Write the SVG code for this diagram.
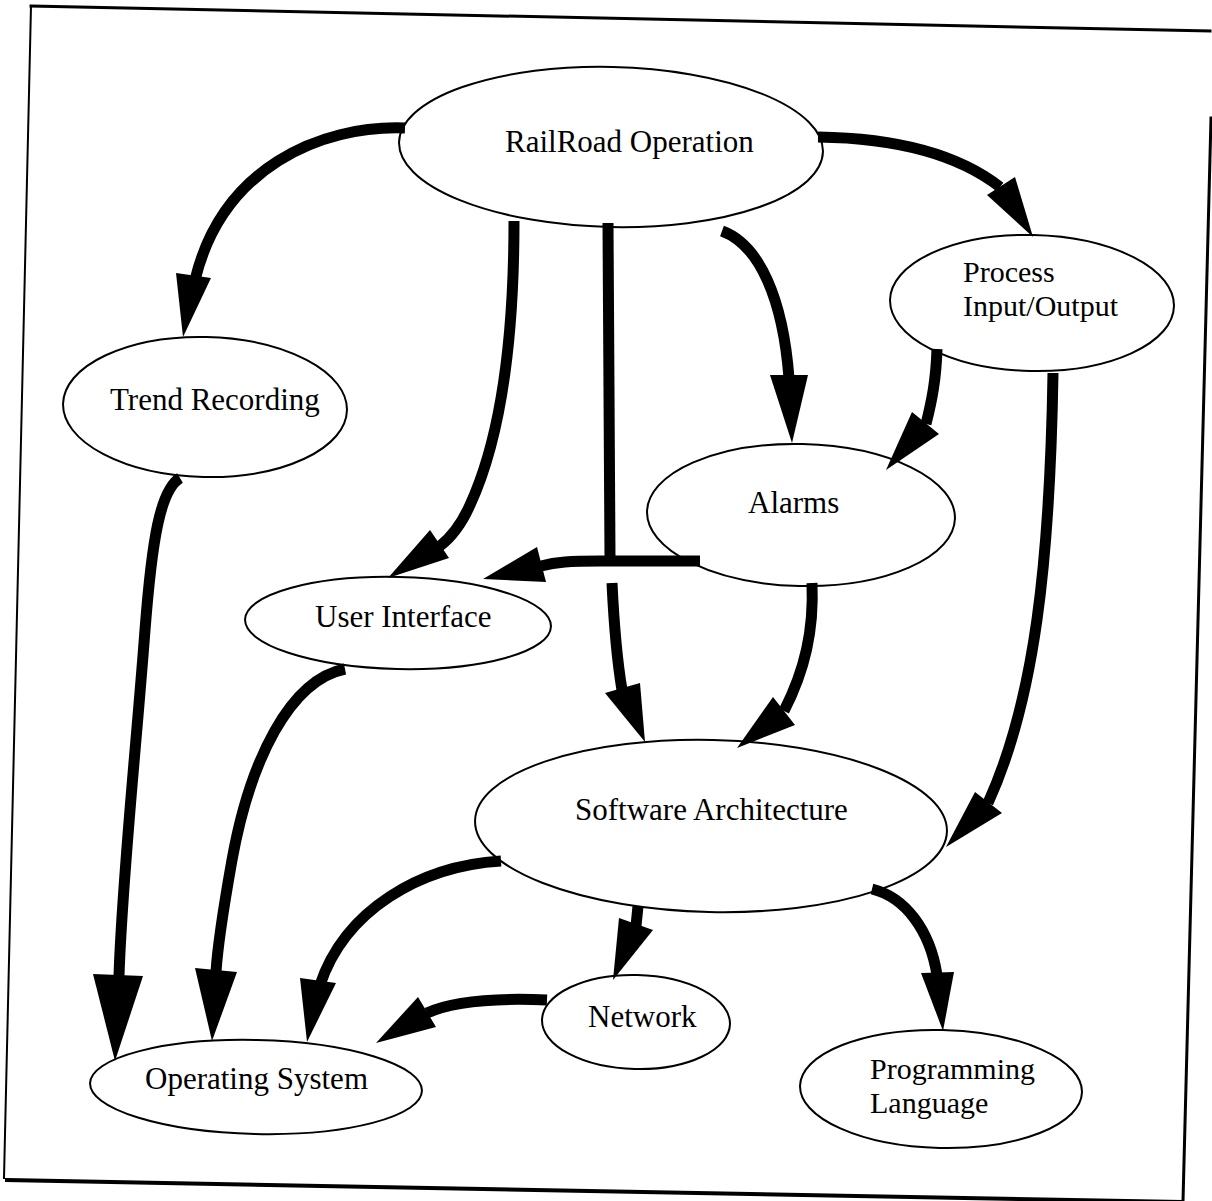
<svg xmlns="http://www.w3.org/2000/svg" width="1212" height="1201" viewBox="0 0 1212 1201">
<style>
.node ellipse { fill: #fff; stroke: #000; stroke-width: 2; }
.label { font-family: "Liberation Serif", "Times New Roman", serif; font-size: 31px; fill: #000; }
.label2 { font-family: "Liberation Serif", "Times New Roman", serif; font-size: 30px; fill: #000; }
.conn { fill: none; stroke: #000; stroke-width: 11; stroke-linecap: butt; stroke-linejoin: round; }
.head { fill: #000; stroke: none; }
.frame { stroke: #000; fill: none; stroke-linecap: square; }
</style>
<rect width="1212" height="1201" fill="#fff"/>
<g id="frame" class="frame">
  <line x1="31" y1="6" x2="1210" y2="31" stroke-width="3"/>
  <line x1="31" y1="6" x2="4" y2="1178" stroke-width="2"/>
  <line x1="7" y1="1180" x2="1180" y2="1202" stroke-width="4"/>
  <line x1="1211" y1="118" x2="1183" y2="1201" stroke-width="3"/>
</g>
<g id="node-railroad" class="node">
  <ellipse cx="611" cy="147" rx="212" ry="80" transform="rotate(1.3 611 147)"/>
  <text class="label" x="505" y="152">RailRoad Operation</text>
</g>
<g id="node-process-io" class="node">
  <ellipse cx="1032" cy="303" rx="142" ry="68" transform="rotate(1.3 1032 303)"/>
  <text class="label2"><tspan x="963" y="282">Process</tspan><tspan x="963" y="316">Input/Output</tspan></text>
</g>
<g id="node-trend" class="node">
  <ellipse cx="205" cy="407" rx="142" ry="70" transform="rotate(1.3 205 407)"/>
  <text class="label" x="110" y="410">Trend Recording</text>
</g>
<g id="node-alarms" class="node">
  <ellipse cx="801" cy="515" rx="154" ry="71" transform="rotate(1.3 801 515)"/>
  <text class="label" x="748" y="513">Alarms</text>
</g>
<g id="node-ui" class="node">
  <ellipse cx="398" cy="623" rx="153" ry="46" transform="rotate(1.3 398 623)"/>
  <text class="label" x="315" y="627">User Interface</text>
</g>
<g id="node-software" class="node">
  <ellipse cx="711" cy="826" rx="236" ry="86" transform="rotate(1.3 711 826)"/>
  <text class="label" x="575" y="820">Software Architecture</text>
</g>
<g id="node-network" class="node">
  <ellipse cx="636" cy="1022" rx="94" ry="47" transform="rotate(1.3 636 1022)"/>
  <text class="label" x="588" y="1027">Network</text>
</g>
<g id="node-os" class="node">
  <ellipse cx="256" cy="1087" rx="166" ry="47" transform="rotate(1.3 256 1087)"/>
  <text class="label" x="145" y="1089">Operating System</text>
</g>
<g id="node-proglang" class="node">
  <ellipse cx="941" cy="1089" rx="141" ry="59" transform="rotate(1.3 941 1089)"/>
  <text class="label2"><tspan x="870" y="1079">Programming</tspan><tspan x="870" y="1113">Language</tspan></text>
</g>
<g id="connectors">
  <path class="conn" d="M405,128 C320,125 222,168 195,280"/>
  <polygon class="head" points="176,273 211,278 183,337"/>
  <path class="conn" d="M514,221 C514,340 500,440 470,505 Q458,532 440,546"/>
  <polygon class="head" points="430,530 449,558 388,578"/>
  <path class="conn" d="M608,223 L610,558"/>
  <path class="conn" d="M612,583 C614,625 617,660 622,690"/>
  <polygon class="head" points="605,693 640,683 645,742"/>
  <path class="conn" d="M722,231 C760,245 783,300 789,378"/>
  <polygon class="head" points="770,375 808,375 792,443"/>
  <path class="conn" d="M818,137 C890,138 955,152 1000,187"/>
  <polygon class="head" points="987,195 1015,177 1033,237"/>
  <path class="conn" d="M937,349 C936,380 932,400 926,424"/>
  <polygon class="head" points="912,412 939,434 886,470"/>
  <path class="conn" d="M1053,373 C1050,560 1035,700 988,803"/>
  <polygon class="head" points="975,792 1002,813 946,847"/>
  <path class="conn" d="M180,478 C160,490 152,540 145,630 C136,750 122,880 119,976"/>
  <polygon class="head" points="93,974 143,976 115,1061"/>
  <path class="conn" d="M345,669 C290,680 250,760 232,860 C224,905 218,940 216,972"/>
  <polygon class="head" points="195,968 237,972 212,1041"/>
  <path class="conn" d="M700,561 L600,561 C570,561 556,562 541,566"/>
  <polygon class="head" points="537,547 546,582 483,579"/>
  <path class="conn" d="M812,583 C814,630 805,670 784,711"/>
  <polygon class="head" points="773,697 795,725 737,748"/>
  <path class="conn" d="M501,861 C420,866 345,910 320,985"/>
  <polygon class="head" points="300,978 336,983 307,1042"/>
  <path class="conn" d="M638,906 L636,926"/>
  <polygon class="head" points="619,918 653,930 613,980"/>
  <path class="conn" d="M547,1000 C500,998 455,1000 427,1013"/>
  <polygon class="head" points="418,997 436,1027 376,1043"/>
  <path class="conn" d="M872,889 C905,897 930,930 937,975"/>
  <polygon class="head" points="921,973 954,972 943,1031"/>
</g>
</svg>
